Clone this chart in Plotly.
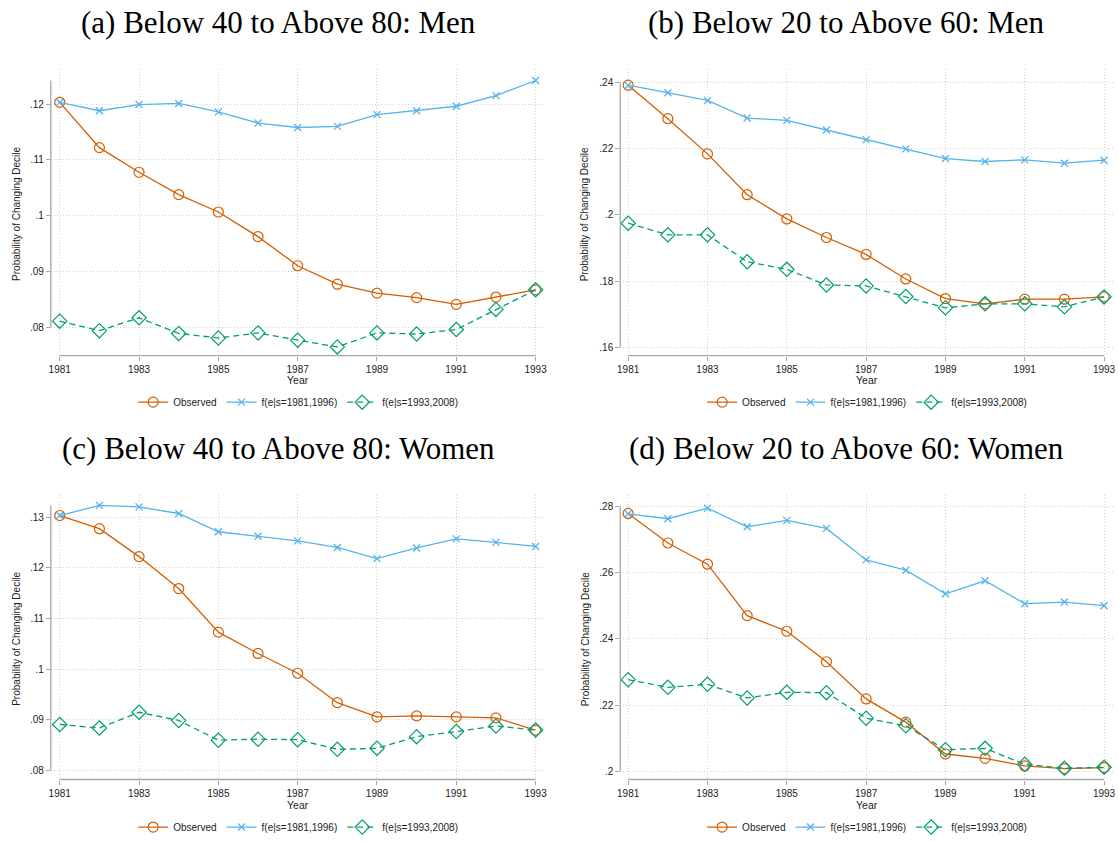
import plotly.graph_objects as go

# ---------------- data ----------------
years = list(range(1981, 1994))
x_tickvals = [1981, 1983, 1985, 1987, 1989, 1991, 1993]

series_names = ["Observed", "f(e|s=1981,1996)", "f(e|s=1993,2008)"]

# (a) Below 40 to Above 80: Men
obs_a = [.1203, .1122, .1078, .1038, .1007, .0963, .0911, .0878, .0862, .0854, .0842, .0855, .0868]
f81_a = [.1203, .1188, .1199, .1201, .1186, .1166, .1158, .1160, .1181, .1188, .1196, .1215, .1242]
f93_a = [.0812, .0795, .0818, .0790, .0782, .0791, .0778, .0766, .0791, .0789, .0797, .0833, .0868]
yt_a = [.08, .09, .10, .11, .12]

# (b) Below 20 to Above 60: Men
obs_b = [.2391, .2290, .2184, .2061, .1988, .1932, .1881, .1807, .1748, .1732, .1746, .1746, .1753]
f81_b = [.2391, .2368, .2345, .2292, .2285, .2256, .2227, .2199, .2170, .2161, .2166, .2156, .2165]
f93_b = [.1975, .1940, .1940, .1859, .1836, .1789, .1786, .1754, .1720, .1732, .1732, .1723, .1753]
yt_b = [.16, .18, .20, .22, .24]

# (c) Below 40 to Above 80: Women
obs_c = [.1303, .1277, .1222, .1159, .1073, .1031, .0992, .0934, .0906, .0908, .0906, .0904, .0880]
f81_c = [.1303, .1323, .1320, .1307, .1271, .1262, .1253, .1240, .1218, .1239, .1257, .1250, .1242]
f93_c = [.0891, .0884, .0915, .0899, .0860, .0862, .0861, .0842, .0844, .0867, .0877, .0888, .0880]
yt_c = [.08, .09, .10, .11, .12, .13]

# (d) Below 20 to Above 60: Women
obs_d = [.2778, .2689, .2625, .2470, .2423, .2331, .2219, .2149, .2053, .2040, .2017, .2009, .2012]
f81_d = [.2777, .2762, .2794, .2738, .2757, .2733, .2638, .2607, .2536, .2575, .2506, .2511, .2500]
f93_d = [.2277, .2254, .2263, .2222, .2239, .2238, .2161, .2138, .2066, .2070, .2022, .2010, .2013]
yt_d = [.20, .22, .24, .26, .28]

titles = ["(a) Below 40 to Above 80: Men", "(b) Below 20 to Above 60: Men",
          "(c) Below 40 to Above 80: Women", "(d) Below 20 to Above 60: Women"]
ytitle = "Probability of Changing Decile"
xtitle = "Year"

# ---------------- layout geometry (pixels) ----------------
W, H = 1118, 842
ORANGE = "#D55E00"
BLUE = "#56B4E9"
GREEN = "#009E73"
AXIS = "#a6a6a6"
GRID = "#d0d0d0"
TXT = "#222222"

panels = [
    dict(data=(obs_a, f81_a, f93_a), yt=yt_a, xd=(48, 545), yd=(70, 359), xref=(57, 535),
         yref=(.12, 105, .08, 331), title_cx=277, title_cy=23, ylab_x=14, year_y=384, leg_y=406),
    dict(data=(obs_b, f81_b, f93_b), yt=yt_b, xd=(620, 1116), yd=(70, 359), xref=(628, 1106),
         yref=(.24, 83, .16, 351), title_cx=847, title_cy=23, ylab_x=585, year_y=384, leg_y=406),
    dict(data=(obs_c, f81_c, f93_c), yt=yt_c, xd=(48, 545), yd=(500, 787), xref=(57, 535),
         yref=(.13, 522, .08, 778), title_cx=277, title_cy=453, ylab_x=14, year_y=813, leg_y=835),
    dict(data=(obs_d, f81_d, f93_d), yt=yt_d, xd=(620, 1116), yd=(500, 787), xref=(628, 1106),
         yref=(.28, 511, .20, 779), title_cx=847, title_cy=453, ylab_x=585, year_y=813, leg_y=835),
]


def fmt(v):
    s = f"{v:.2f}".rstrip("0")
    if s.startswith("0"):
        s = s[1:]
    return s


fig = go.Figure()
layout = dict(width=W, height=H, margin=dict(l=0, r=0, t=0, b=0),
              paper_bgcolor="white", plot_bgcolor="white",
              font=dict(family="Liberation Sans, Arial, sans-serif", size=10, color=TXT))
annotations = []
shapes = []

styles = [
    dict(mode="lines+markers", line=dict(color=ORANGE, width=1.3),
         marker=dict(symbol="circle-open", size=10, color=ORANGE, line=dict(width=1.2, color=ORANGE))),
    dict(mode="lines+markers", line=dict(color=BLUE, width=1.3),
         marker=dict(symbol="x-thin", size=7, color=BLUE, line=dict(width=1.3, color=BLUE))),
    dict(mode="lines+markers", line=dict(color=GREEN, width=1.3, dash="6px,4px"),
         marker=dict(symbol="diamond-open", size=11, color=GREEN, line=dict(width=1.2, color=GREEN))),
]

for i, p in enumerate(panels):
    n = "" if i == 0 else str(i + 1)
    xa, ya = "x" + n, "y" + n
    legname = "legend" + n

    # x range from pixel geometry
    ppy = (p["xref"][1] - p["xref"][0]) / (years[-1] - years[0])
    xr = [years[0] - (p["xref"][0] - p["xd"][0]) / ppy, years[-1] + (p["xd"][1] - p["xref"][1]) / ppy]
    vhi, phi, vlo, plo = p["yref"]
    scale = (plo - phi) / (vhi - vlo)
    yr = [vlo - (p["yd"][1] - plo) / scale, vhi + (phi - p["yd"][0]) / scale]

    for s, (vals, name) in enumerate(zip(p["data"], series_names)):
        fig.add_trace(go.Scatter(x=years, y=vals, name=name, xaxis=xa, yaxis=ya,
                                 legend=legname, showlegend=True, **styles[s]))

    layout["xaxis" + n] = dict(domain=[p["xd"][0] / W, p["xd"][1] / W], range=xr, anchor=ya,
                               tickvals=x_tickvals, ticktext=[str(v) for v in x_tickvals],
                               ticks="outside", ticklen=4, tickcolor=AXIS, tickwidth=1,
                               showgrid=True, gridcolor=GRID, griddash="1px,2px", gridwidth=1,
                               showline=False, zeroline=False,
                               tickfont=dict(size=10, color=TXT))
    layout["yaxis" + n] = dict(domain=[1 - p["yd"][1] / H, 1 - p["yd"][0] / H], range=yr, anchor=xa,
                               tickvals=p["yt"], ticktext=[fmt(v) for v in p["yt"]],
                               ticks="outside", ticklen=4, tickcolor=AXIS, tickwidth=1,
                               showgrid=True, gridcolor=GRID, griddash="1px,2px", gridwidth=1,
                               showline=False, zeroline=False,
                               tickfont=dict(size=10, color=TXT))

    # axis lines spanning the scale range
    ymax = max(max(max(v) for v in p["data"]), p["yt"][-1])
    shapes.append(dict(type="line", xref=xa + " domain", yref=ya, x0=0, x1=0,
                       y0=p["yt"][0], y1=ymax, line=dict(color=AXIS, width=1.3)))
    shapes.append(dict(type="line", xref=xa, yref=ya + " domain", x0=years[0], x1=years[-1],
                       y0=0, y1=0, line=dict(color=AXIS, width=1.3)))

    # titles and axis labels
    annotations.append(dict(text=titles[i], x=p["title_cx"] / W, y=1 - p["title_cy"] / H,
                            xref="paper", yref="paper", xanchor="center", yanchor="middle",
                            showarrow=False,
                            font=dict(family="Liberation Serif, Times New Roman, serif", size=31,
                                      color="black")))
    ymid = (p["yd"][0] + 11 + p["yd"][1] - 8) / 2
    annotations.append(dict(text=ytitle, x=p["ylab_x"] / W, y=1 - ymid / H, xref="paper", yref="paper",
                            xanchor="center", yanchor="middle", textangle=-90, showarrow=False,
                            font=dict(size=10, color=TXT)))
    annotations.append(dict(text=xtitle, x=(p["xd"][0] + p["xd"][1]) / 2 / W, y=1 - p["year_y"] / H,
                            xref="paper", yref="paper", xanchor="center", yanchor="middle",
                            showarrow=False, font=dict(size=10.5, color=TXT)))

    layout[legname] = dict(orientation="h", x=(p["xd"][0] + p["xd"][1]) / 2 / W, xanchor="center",
                           y=1 - p["leg_y"] / H, yanchor="middle", font=dict(size=10, color=TXT),
                           bgcolor="rgba(0,0,0,0)", itemwidth=30, tracegroupgap=0)

layout["annotations"] = annotations
layout["shapes"] = shapes
fig.update_layout(**layout)
fig.write_html("out.html", config={"displayModeBar": False},
               post_script="document.body.style.margin='0';document.body.style.overflow='hidden';")
